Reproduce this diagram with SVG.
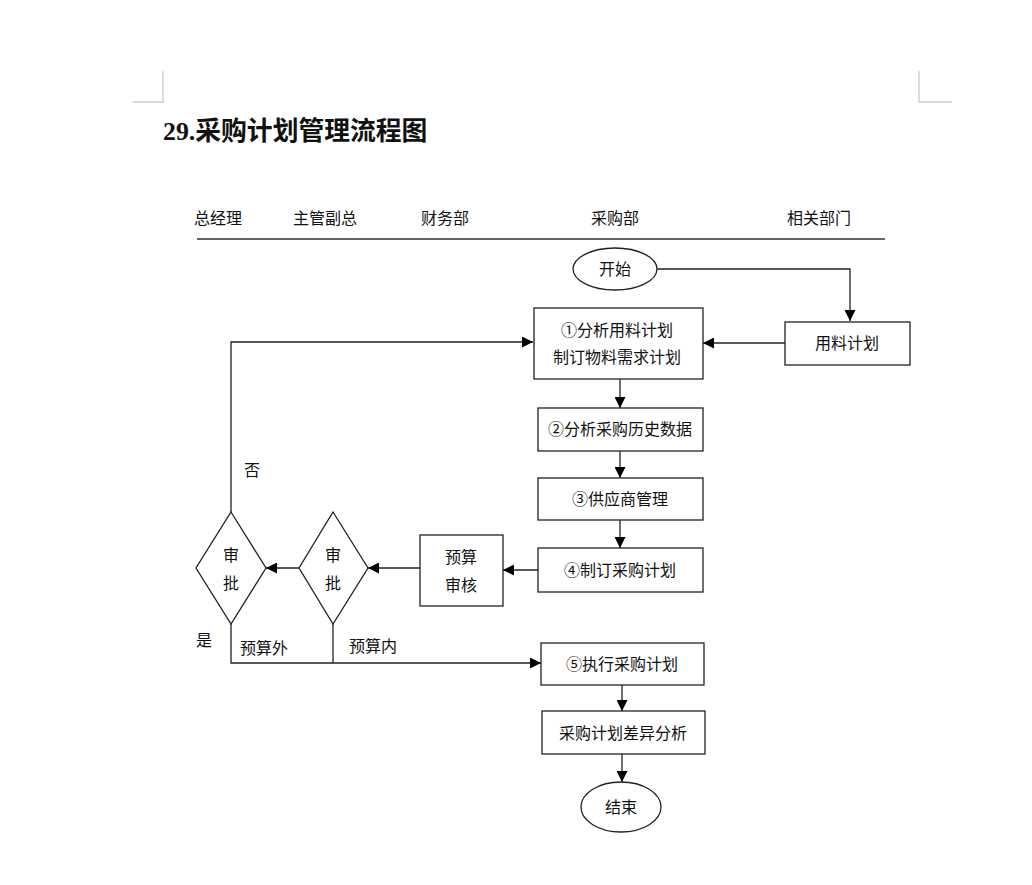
<svg xmlns="http://www.w3.org/2000/svg" width="1032" height="885" viewBox="0 0 1032 885">
<defs>
<marker id="ah" viewBox="0 0 10 10" refX="10" refY="5" markerWidth="11" markerHeight="11" markerUnits="userSpaceOnUse" orient="auto">
<path d="M0,0 L10,5 L0,10 z" fill="#000"/>
</marker>
<style>
.t{font-family:"Noto Sans CJK SC","Liberation Sans",sans-serif;font-size:16px;fill:#111;text-anchor:middle;}
.s{fill:#fff;stroke:#222;stroke-width:1.3;}
.c{fill:none;stroke:#222;stroke-width:1.3;}
.a{marker-end:url(#ah);}
</style>
</defs>
<rect width="1032" height="885" fill="#fff"/>
<g id="corners" fill="none" stroke="#ccc" stroke-width="1.3">
<path d="M163,71 V102 H133"/>
<path d="M919,71 V102 H952"/>
</g>
<text x="163" y="140" style="font-family:'Liberation Serif','Noto Sans CJK SC',serif;font-weight:bold;font-size:25.8px;fill:#111">29.采购计划管理流程图</text>
<g id="headers">
<text class="t" x="218" y="224">总经理</text>
<text class="t" x="325" y="224">主管副总</text>
<text class="t" x="445" y="224">财务部</text>
<text class="t" x="615" y="224">采购部</text>
<text class="t" x="819" y="224">相关部门</text>
<line x1="197" y1="239" x2="885" y2="239" stroke="#666" stroke-width="2"/>
</g>
<g id="connectors">
<path class="c a" d="M657,269 H850 V321"/>
<path class="c a" d="M785,343 H703"/>
<path class="c a" d="M231,512 V342 H533"/>
<path class="c a" d="M620,379 V408"/>
<path class="c a" d="M620,451 V478"/>
<path class="c a" d="M620,520 V548"/>
<path class="c a" d="M538,570 H503"/>
<path class="c a" d="M420,568 H368"/>
<path class="c a" d="M299,568 H266"/>
<path class="c" d="M333,624 V663"/>
<path class="c a" d="M231,624 V663 H541"/>
<path class="c a" d="M622,685 V711"/>
<path class="c a" d="M622,754 V782"/>
</g>
<g id="start"><ellipse class="s" cx="615" cy="269" rx="42" ry="21"/><text class="t" x="615" y="275">开始</text></g>
<g id="material"><rect class="s" x="785" y="322" width="125" height="43"/><text class="t" x="847" y="349">用料计划</text></g>
<g id="step1"><rect class="s" x="534" y="308" width="169" height="71"/><text class="t" x="617" y="336">①分析用料计划</text><text class="t" x="617" y="363">制订物料需求计划</text></g>
<g id="step2"><rect class="s" x="538" y="408" width="165" height="43"/><text class="t" x="620" y="435">②分析采购历史数据</text></g>
<g id="step3"><rect class="s" x="538" y="478" width="165" height="42"/><text class="t" x="620" y="505">③供应商管理</text></g>
<g id="step4"><rect class="s" x="538" y="548" width="165" height="44"/><text class="t" x="620" y="576">④制订采购计划</text></g>
<g id="budget"><rect class="s" x="420" y="535" width="83" height="71"/><text class="t" x="461" y="563">预算</text><text class="t" x="461" y="591">审核</text></g>
<g id="approve2"><path class="s" d="M333,512 L368,568 L333,624 L299,568 Z"/><text class="t" x="333" y="561">审</text><text class="t" x="333" y="589">批</text></g>
<g id="approve1"><path class="s" d="M231,512 L266,568 L231,624 L196,568 Z"/><text class="t" x="231" y="561">审</text><text class="t" x="231" y="589">批</text></g>
<g id="labels">
<text class="t" x="252" y="476">否</text>
<text class="t" x="204" y="646">是</text>
<text class="t" x="264" y="654">预算外</text>
<text class="t" x="373" y="652">预算内</text>
</g>
<g id="step5"><rect class="s" x="541" y="643" width="163" height="42"/><text class="t" x="622" y="670">⑤执行采购计划</text></g>
<g id="variance"><rect class="s" x="542" y="711" width="163" height="43"/><text class="t" x="623" y="739">采购计划差异分析</text></g>
<g id="end"><ellipse class="s" cx="621" cy="807" rx="40" ry="25"/><text class="t" x="621" y="813">结束</text></g>
</svg>
